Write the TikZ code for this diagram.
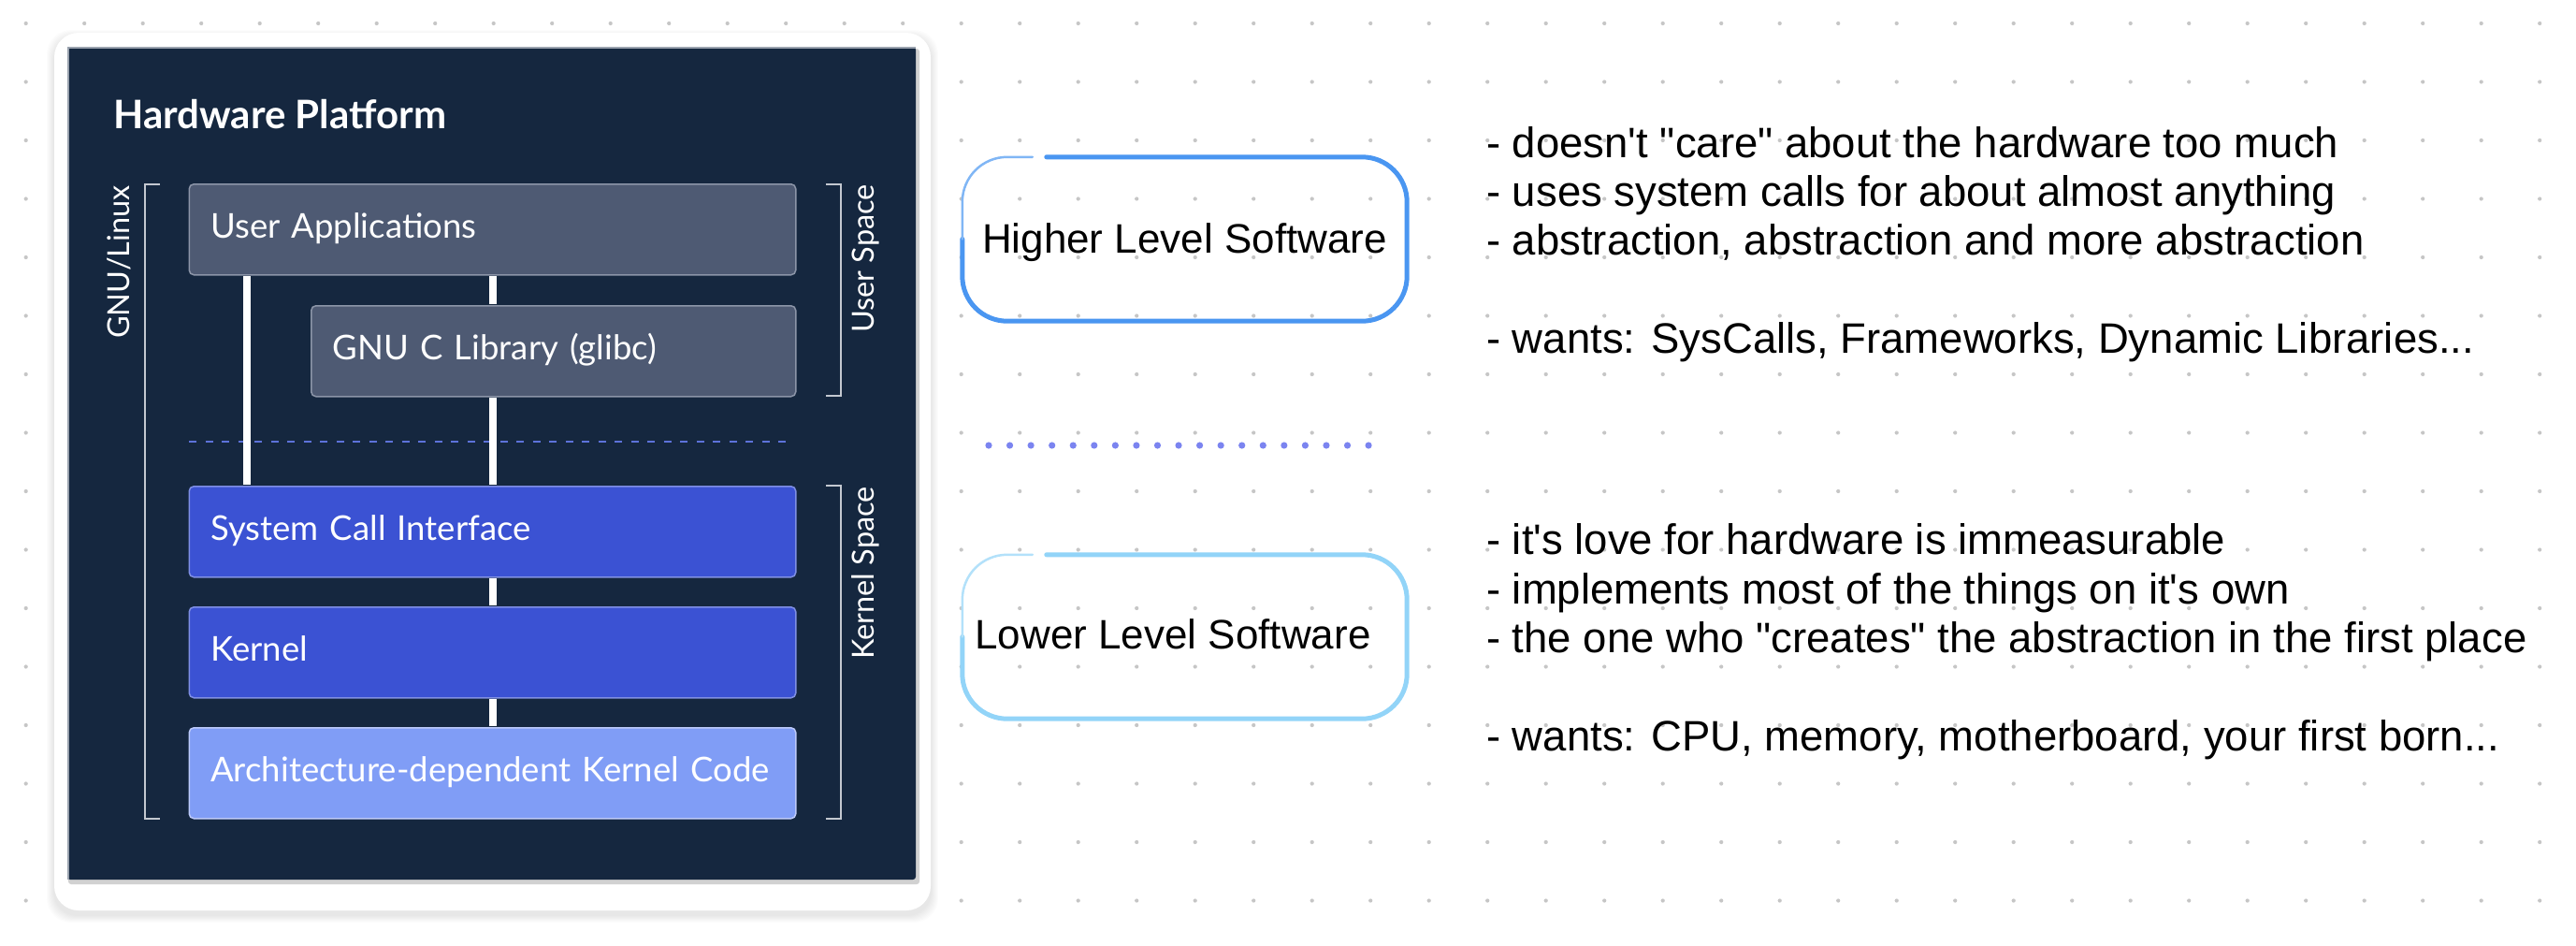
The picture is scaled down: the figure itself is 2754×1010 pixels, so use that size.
\documentclass[tikz,border=0pt]{standalone}
\usepackage{fontspec}
\setmainfont{Liberation Sans}
\newfontfamily\geo{Lato}
\newfontfamily\listfont[Ligatures=TeXOff]{Liberation Sans}
\usetikzlibrary{calc}
\definecolor{panel}{HTML}{15273F}
\definecolor{ubox}{HTML}{4E5A73}
\definecolor{uborder}{HTML}{8C95A8}
\definecolor{kbox}{HTML}{3B52D3}
\definecolor{kborder}{HTML}{7F8FE4}
\definecolor{abox}{HTML}{809DF6}
\definecolor{aborder}{HTML}{BCC9FA}
\definecolor{brk}{HTML}{C3C8D0}
\definecolor{dashc}{HTML}{5D72DA}
\definecolor{gridc}{HTML}{C6C6C6}
\definecolor{hiblue}{HTML}{4A96F1}
\definecolor{loblue}{HTML}{92D4F8}
\definecolor{sepdot}{HTML}{7B84F0}
\definecolor{paneledge}{HTML}{9AA2AE}
\begin{document}
\begin{tikzpicture}[x=1pt,y=-1pt,
  layer/.style={rectangle, rounded corners=5pt, line width=1.5pt, anchor=north west,
    minimum height=97pt, inner xsep=23pt, inner ysep=0pt, align=left,
    text height=26pt, text depth=7pt, text=white,
    font=\geo\fontsize{36.5}{41}\selectfont},
  userbox/.style={layer, fill=ubox, draw=uborder},
  kernbox/.style={layer, fill=kbox, draw=kborder},
  archbox/.style={layer, fill=abox, draw=aborder},
  conn/.style={white, line width=8pt},
  bracket/.style={brk, line width=2pt},
  rotlab/.style={rotate=90, anchor=east, inner sep=0pt, text height=23pt, text depth=7pt,
    text=white, font=\geo\fontsize{32.5}{36}\selectfont},
  swbox/.style={rectangle, minimum width=475pt, minimum height=175pt, inner sep=0pt,
    font=\listfont\fontsize{44}{50}\selectfont},
  listtxt/.style={anchor=base west, inner sep=0pt, font=\listfont\fontsize{45.5}{52}\selectfont},
]
\useasboundingbox (0,0) rectangle (2754,1010);
\fill[white] (0,0) rectangle (2754,1010);
% dot grid
\foreach \i in {0,...,43}
  \foreach \j in {0,...,15}
    \fill[gridc] ({27.7+62.5*\i},{25+62.5*\j}) circle (2.1pt);
% card with soft shadow
\foreach \k in {1,...,8}
  \fill[black, opacity=0.013, rounded corners=26pt] ({58-\k},{35-\k+5}) rectangle ({995+\k},{973+\k+5});
\fill[white, rounded corners=26pt] (58,35) rectangle (995,973);
% dark panel
\fill[black, opacity=0.18, rounded corners=3pt] (73,52) rectangle (983,945);
\fill[panel, rounded corners=3pt] (72,50) rectangle (979,940);
\draw[paneledge, line width=1.5pt] (72.75,940) -- (72.75,50.75) -- (979,50.75);
\node[anchor=base west, inner sep=0pt, text=white, font=\geo\bfseries\fontsize{42}{46}\selectfont] (title) at (121,137) {Hardware Platform};
% brackets
\draw[bracket] (171,197) -- (155,197) -- (155,875) -- (171,875);
\draw[bracket] (883,197) -- (899,197) -- (899,423) -- (883,423);
\draw[bracket] (883,519) -- (899,519) -- (899,875) -- (883,875);
\node[rotlab] (gnulinux) at (130,198) {GNU/Linux};
\node[rotlab] (userspace) at (926,197) {User Space};
\node[rotlab] (kernelspace) at (926,520) {Kernel Space};
% separator between spaces
\draw[dashc, line width=2pt, dash pattern=on 8pt off 9.5pt] (202,472) -- (848,472);
% boxes
\node[userbox, text width=602.5pt] (ua) at (201.5,196) {User Applications};
\node[userbox, text width=472pt] (glibc) at (332,326) {GNU C Library (glibc)};
\node[kernbox, text width=602.5pt] (sci) at (201.5,519) {System Call Interface};
\node[kernbox, text width=602.5pt] (kern) at (201.5,648) {Kernel};
\node[archbox, text width=602.5pt] (arch) at (201.5,777) {Architecture-dependent Kernel Code};
% connectors
\draw[conn] ($(ua.south west)+(62.5,0.8)$) -- ($(sci.north west)+(62.5,-0.8)$);
\draw[conn] ($(ua.south)+(0,0.8)$) -- ($(ua.south |- glibc.north)+(0,-0.8)$);
\draw[conn] ($(ua.south |- glibc.south)+(0,0.8)$) -- ($(sci.north)+(0,-0.8)$);
\draw[conn] ($(sci.south)+(0,0.8)$) -- ($(kern.north)+(0,-0.8)$);
\draw[conn] ($(kern.south)+(0,0.8)$) -- ($(arch.north)+(0,-0.8)$);
% right side: software level boxes
\node[swbox] (hi) at (1266.5,255.5) {\rule{0pt}{40pt}\rule[-7pt]{0pt}{7pt}Higher Level Software};
\draw[hiblue, line width=5pt, line cap=round, rounded corners=48pt]
  ($(hi.north west)+(90,0)$) -- (hi.north east) -- (hi.south east) -- (hi.south west) -- (hi.west);
\draw[hiblue!70, line width=2.5pt, line cap=round, rounded corners=48pt]
  (hi.west) -- (hi.north west) -- ($(hi.north west)+(75,0)$);
\node[swbox] (lo) at (1266.5,680.5) {};
\node[anchor=base, inner sep=0pt, font=\listfont\fontsize{44}{50}\selectfont] (lotext) at (1254,693) {Lower Level Software};
\draw[loblue, line width=5pt, line cap=round, rounded corners=48pt]
  ($(lo.north west)+(90,0)$) -- (lo.north east) -- (lo.south east) -- (lo.south west) -- (lo.west);
\draw[loblue!70, line width=2.5pt, line cap=round, rounded corners=48pt]
  (lo.west) -- (lo.north west) -- ($(lo.north west)+(75,0)$);
% dotted separator
\foreach \k in {0,...,18}
  \fill[sepdot] ({1057+22.56*\k},476) circle (3.6pt);
% lists
\node[listtxt] (h1) at (1589,168) {- doesn't "care" about the hardware too much};
\node[listtxt] (h2) at (1589,220) {- uses system calls for about almost anything};
\node[listtxt] (h3) at (1589,272) {- abstraction, abstraction and more abstraction};
\node[listtxt] (h4) at (1589,377) {- wants: SysCalls, Frameworks, Dynamic Libraries...};
\node[listtxt] (l1) at (1589,592) {- it's love for hardware is immeasurable};
\node[listtxt] (l2) at (1589,645) {- implements most of the things on it's own};
\node[listtxt] (l3) at (1589,697) {- the one who "creates" the abstraction in the first place};
\node[listtxt] (l4) at (1589,802) {- wants: CPU, memory, motherboard, your first born...};
\end{tikzpicture}
\end{document}
